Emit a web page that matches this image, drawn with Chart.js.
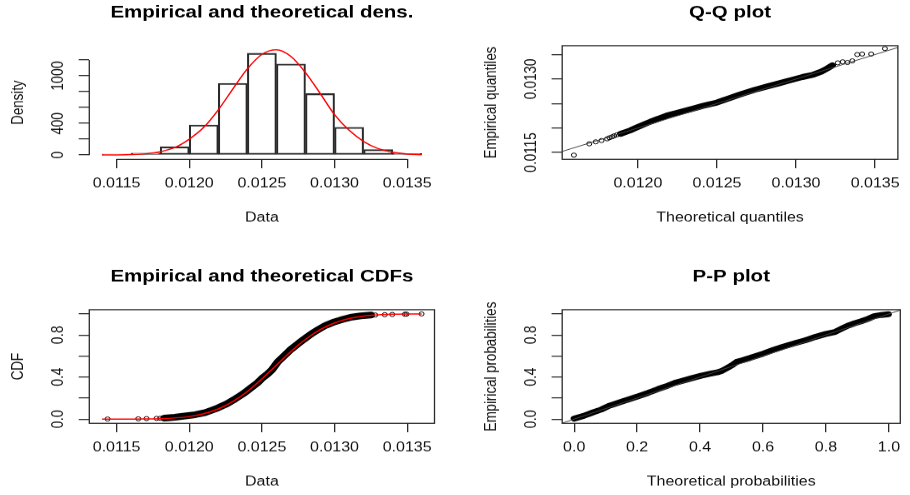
<!DOCTYPE html>
<html>
<head>
<meta charset="utf-8">
<script src="https://cdn.jsdelivr.net/npm/chart.js@4.4.1/dist/chart.umd.min.js"></script>
<style>
  html, body { margin: 0; padding: 0; background: #fff; width: 910px; height: 495px; overflow: hidden; }
  canvas { position: absolute; }
</style>
</head>
<body>
<!-- each canvas is drawn at 455x317 and shown at 455x264 (vertically condensed) -->
<canvas id="dens" width="455" height="317" style="left:0;top:0;width:455px;height:264px"></canvas>
<canvas id="qq"   width="455" height="317" style="left:455px;top:0;width:455px;height:264px"></canvas>
<canvas id="cdf"  width="455" height="317" style="left:0;top:264px;width:455px;height:264px"></canvas>
<canvas id="pp"   width="455" height="317" style="left:455px;top:264px;width:455px;height:264px"></canvas>
<script>
// ---------- data ----------
// histogram of the sample (bin edges and density of each bin)
const histBreaks  = [0.0114, 0.0116, 0.0118, 0.0120, 0.0122, 0.0124, 0.0126, 0.0128, 0.0130, 0.0132, 0.0134, 0.0136];
const histDensity = [10, 25, 105, 380, 905, 1285, 1150, 775, 350, 70, 20];

// fitted normal distribution, evaluated along the data range
const fitX       = [0.0114, 0.0115, 0.0116, 0.0117, 0.0118, 0.0119, 0.0120, 0.0121, 0.0122, 0.0123, 0.0124, 0.0125,
                    0.0126, 0.0127, 0.0128, 0.0129, 0.0130, 0.0131, 0.0132, 0.0133, 0.0134, 0.0135, 0.0136];
const fitDensity = [0.5, 1.8, 5.7, 16, 41, 94, 200, 350, 571, 834, 1088, 1271,
                    1329, 1244, 1041, 780, 510, 313, 172, 81, 35, 13, 5];
const fitCdf     = [0.00004, 0.00014, 0.0005, 0.0015, 0.0042, 0.0107, 0.0246, 0.0512, 0.0968, 0.1669, 0.2633, 0.3821,
                    0.5133, 0.6431, 0.758, 0.8493, 0.9141, 0.9554, 0.979, 0.991, 0.9965, 0.9988, 0.9996];

// empirical CDF: isolated tail observations and the dense bulk
const ecdfTailX = [0.011438, 0.011649, 0.011706, 0.011775, 0.011800, 0.011821,
                   0.013230, 0.013280, 0.013346, 0.013397, 0.013484, 0.013495, 0.013599];
const ecdfTailY = [0.001, 0.003, 0.005, 0.007, 0.008, 0.009,
                   0.988, 0.990, 0.993, 0.995, 0.997, 0.998, 1.0];
const ecdfBulkX = [0.01183, 0.01190, 0.01197, 0.01204, 0.01211, 0.01215, 0.01220, 0.01226, 0.01231, 0.01237,
                   0.01243, 0.01247, 0.01250, 0.01254, 0.01257, 0.01259, 0.01261, 0.01266, 0.01270, 0.01275,
                   0.01280, 0.01284, 0.01289, 0.01294, 0.01300, 0.01306, 0.01312, 0.01318, 0.01325];
const ecdfBulkY = [0.010, 0.018, 0.030, 0.042, 0.062, 0.082, 0.108, 0.147, 0.187, 0.240,
                   0.302, 0.345, 0.386, 0.430, 0.470, 0.508, 0.545, 0.610, 0.663, 0.718,
                   0.770, 0.810, 0.853, 0.892, 0.925, 0.950, 0.970, 0.981, 0.990];

// Q-Q plot: theoretical vs empirical quantiles
const qqTailX = [0.011595, 0.011692, 0.011733, 0.011770, 0.011805, 0.011820, 0.011836, 0.011850, 0.011866,
                 0.013264, 0.013295, 0.013325, 0.013356, 0.013387, 0.013418, 0.013475, 0.013562];
const qqTailY = [0.011446, 0.011676, 0.011717, 0.011744, 0.011778, 0.011800, 0.011819, 0.011840, 0.011859,
                 0.013330, 0.013351, 0.013337, 0.013371, 0.013500, 0.013510, 0.013510, 0.013622];
const qqBulkX = [0.01189, 0.01195, 0.01200, 0.01208, 0.01218, 0.01226, 0.01233, 0.01241, 0.01250, 0.01258,
                 0.01266, 0.01274, 0.01282, 0.01290, 0.01297, 0.01304, 0.01311, 0.01316, 0.01320, 0.01323];
const qqBulkY = [0.01188, 0.01195, 0.01202, 0.01213, 0.01225, 0.01232, 0.01238, 0.01245, 0.01252, 0.01261,
                 0.01270, 0.01278, 0.01285, 0.01292, 0.01298, 0.01304, 0.01309, 0.01315, 0.01322, 0.01328];

// P-P plot: theoretical vs empirical probabilities
const ppBulkX = [0.000, 0.030, 0.059, 0.085, 0.111, 0.155, 0.202, 0.235, 0.267, 0.295, 0.319, 0.345, 0.371,
                 0.403, 0.430, 0.454, 0.470, 0.486, 0.503, 0.517, 0.535, 0.558, 0.600, 0.630, 0.662, 0.704,
                 0.735, 0.766, 0.800, 0.829, 0.850, 0.870, 0.890, 0.912, 0.935, 0.953, 0.975, 0.998];
const ppBulkY = [0.005, 0.030, 0.063, 0.090, 0.127, 0.170, 0.216, 0.250, 0.286, 0.315, 0.343, 0.365, 0.387,
                 0.413, 0.430, 0.444, 0.460, 0.486, 0.515, 0.546, 0.560, 0.581, 0.622, 0.655, 0.686, 0.724,
                 0.750, 0.781, 0.810, 0.829, 0.860, 0.889, 0.910, 0.930, 0.955, 0.978, 0.990, 0.998];

// axis ranges
const dataRange  = [0.011312, 0.013688];
const densRange  = [-54, 1380];
const qqXRange   = [0.011521, 0.013644];
const qqYRange   = [0.01136, 0.01368];
const probXRange = [-0.038, 1.036];
const probYRange = [-0.04, 1.04];

// tick positions and their printed labels ('' = tick without label)
const dataTicks       = [0.0115, 0.0120, 0.0125, 0.0130, 0.0135];
const dataTickLabels  = ['0.0115', '0.0120', '0.0125', '0.0130', '0.0135'];
const densTicks       = [0, 200, 400, 600, 800, 1000, 1200];
const densTickLabels  = ['0', '', '400', '', '', '1000', ''];
const qqXTicks        = [0.0120, 0.0125, 0.0130, 0.0135];
const qqXTickLabels   = ['0.0120', '0.0125', '0.0130', '0.0135'];
const qqYTicks        = [0.0115, 0.0120, 0.0125, 0.0130, 0.0135];
const qqYTickLabels   = ['0.0115', '', '', '0.0130', ''];
const probTicks       = [0, 0.2, 0.4, 0.6, 0.8, 1.0];
const probXTickLabels = ['0.0', '0.2', '0.4', '0.6', '0.8', '1.0'];
const probYTickLabels = ['0.0', '', '0.4', '', '0.8', ''];

// ---------- layout constants (canvas units) ----------
const CANVAS_H = 317;
const AREA_TOP = 54.87;
const AREA_BOTTOM = 191.28;
const TICK_LEN = 10.6;
const INK = '#111111';
const LINE = '#2a2a2a';

Chart.defaults.font.family = "'Liberation Sans', Arial, Helvetica, sans-serif";
Chart.defaults.color = INK;

const zip = (xs, ys) => xs.map((x, i) => ({x, y: ys[i]}));

// R-style frame: a full box, or axis lines that run from the first to the last tick
const rFrame = {
  id: 'rFrame',
  afterDatasetsDraw(chart, args, opts) {
    const {ctx, chartArea: a} = chart;
    ctx.save();
    ctx.strokeStyle = LINE;
    ctx.lineWidth = 1.3;
    if (opts.box) {
      ctx.strokeRect(a.left, a.top, a.right - a.left, a.bottom - a.top);
    } else {
      const xs = chart.scales.x, ys = chart.scales.y;
      const xt = xs.ticks, yt = ys.ticks;
      ctx.beginPath();
      ctx.moveTo(xs.getPixelForValue(xt[0].value), a.bottom);
      ctx.lineTo(xs.getPixelForValue(xt[xt.length - 1].value), a.bottom);
      ctx.moveTo(a.left, ys.getPixelForValue(yt[0].value));
      ctx.lineTo(a.left, ys.getPixelForValue(yt[yt.length - 1].value));
      ctx.stroke();
    }
    ctx.restore();
  }
};

function xAxis(range, ticks, labels, title) {
  return {
    type: 'linear', min: range[0], max: range[1], offset: false,
    afterBuildTicks: s => { s.ticks = ticks.map(v => ({value: v})); },
    afterFit: s => { s.height = CANVAS_H - AREA_BOTTOM; },
    grid: {offset: false, drawOnChartArea: false, drawTicks: true, tickLength: TICK_LEN, color: LINE, lineWidth: 1.3},
    border: {display: false},
    ticks: {autoSkip: false, minRotation: 0, maxRotation: 0, padding: 9.6, color: INK,
            font: {size: 16}, callback: (v, i) => labels[i]},
    title: {display: true, text: title, color: INK, font: {size: 16}, padding: {top: 0, bottom: 46.2}}
  };
}

function yAxis(range, ticks, labels, title, width, labelGap, titleGap) {
  // label centre sits labelGap px left of the plot; crossAlign 'center' offsets by half the widest label
  const probe = document.createElement('canvas').getContext('2d');
  probe.font = "16px 'Liberation Sans', Arial, Helvetica, sans-serif";
  const widest = Math.max(...labels.map(l => probe.measureText(l).width));
  return {
    type: 'linear', min: range[0], max: range[1],
    afterBuildTicks: s => { s.ticks = ticks.map(v => ({value: v})); },
    afterFit: s => { s.width = width; },
    grid: {drawOnChartArea: false, drawTicks: true, tickLength: TICK_LEN, color: LINE, lineWidth: 1.3},
    border: {display: false},
    ticks: {autoSkip: false, minRotation: 90, maxRotation: 90, crossAlign: 'center',
            padding: labelGap - TICK_LEN - widest / 2, color: INK,
            font: {size: 16}, callback: (v, i) => labels[i]},
    title: {display: true, text: title, color: INK, font: {size: 16}, padding: {top: titleGap - 9.6, bottom: 0}}
  };
}

function options(title, scales, rightPad, box) {
  return {
    responsive: false, animation: false, devicePixelRatio: 1, events: [],
    layout: {padding: {left: 0, top: 0, bottom: 0, right: rightPad}},
    plugins: {
      legend: {display: false},
      tooltip: {enabled: false},
      title: {display: true, text: title, fullSize: false, color: '#000',
              font: {size: 20.5, weight: 'bold', lineHeight: 1.2},
              padding: {top: 3.4, bottom: AREA_TOP - 3.4 - 24.6}},
      rFrame: {box}
    },
    scales
  };
}

const hollow = {pointStyle: 'circle', pointRadius: 2.5, pointBorderWidth: 1,
                pointBorderColor: '#000', pointBackgroundColor: 'rgba(0,0,0,0)'};
const bulk = w => Object.assign({showLine: true, borderColor: '#000', borderWidth: w,
                                 borderJoinStyle: 'round', borderCapStyle: 'round'}, hollow);

// ---------- Empirical and theoretical densities ----------
const binCentres = histDensity.map((d, i) => (histBreaks[i] + histBreaks[i + 1]) / 2);
new Chart(document.getElementById('dens'), {
  type: 'bar',
  data: {
    datasets: [
      {type: 'line', order: 0, data: zip(fitX, fitDensity), borderColor: '#ff0000', borderWidth: 1.5,
       pointRadius: 0, cubicInterpolationMode: 'monotone'},
      {type: 'bar', order: 1, data: zip(binCentres, histDensity), backgroundColor: 'rgba(0,0,0,0)',
       borderColor: '#2a2a2a', borderWidth: 1.4, borderSkipped: false,
       barPercentage: 1, categoryPercentage: 1, grouped: false}
    ]
  },
  options: options('Empirical and theoretical dens.', {
    x: xAxis(dataRange, dataTicks, dataTickLabels, 'Data'),
    y: yAxis(densRange, densTicks, densTickLabels, 'Density', 89.3, 31, 18.3)
  }, 20.5, false),
  plugins: [rFrame]
});

// ---------- Q-Q plot ----------
const qqLo = Math.min(qqXRange[0], qqYRange[0]), qqHi = Math.max(qqXRange[1], qqYRange[1]);
new Chart(document.getElementById('qq'), {
  type: 'scatter',
  data: {
    datasets: [
      {order: 0, showLine: true, data: [{x: qqLo, y: qqLo}, {x: qqHi, y: qqHi}], borderColor: '#444',
       borderWidth: 1, pointRadius: 0, clip: 0},
      Object.assign({order: 1, data: zip(qqTailX, qqTailY)}, hollow),
      Object.assign({order: 2, data: zip(qqBulkX, qqBulkY)}, bulk(7))
    ]
  },
  options: options('Q-Q plot', {
    x: xAxis(qqXRange, qqXTicks, qqXTickLabels, 'Theoretical quantiles'),
    y: yAxis(qqYRange, qqYTicks, qqYTickLabels, 'Empirical quantiles', 107.2, 30.2, 36.7)
  }, 3.3, true),
  plugins: [rFrame]
});

// ---------- Empirical and theoretical CDFs ----------
new Chart(document.getElementById('cdf'), {
  type: 'scatter',
  data: {
    datasets: [
      {order: 0, showLine: true, data: zip(fitX, fitCdf), borderColor: '#ff0000', borderWidth: 1.5,
       pointRadius: 0, cubicInterpolationMode: 'monotone'},
      Object.assign({order: 1, data: zip(ecdfTailX, ecdfTailY)}, hollow),
      Object.assign({order: 2, data: zip(ecdfBulkX, ecdfBulkY)}, bulk(8))
    ]
  },
  options: options('Empirical and theoretical CDFs', {
    x: xAxis(dataRange, dataTicks, dataTickLabels, 'Data'),
    y: yAxis(probYRange, probTicks, probYTickLabels, 'CDF', 89.3, 31, 18.3)
  }, 20.5, true),
  plugins: [rFrame]
});

// ---------- P-P plot ----------
const ppLo = Math.min(probXRange[0], probYRange[0]), ppHi = Math.max(probXRange[1], probYRange[1]);
new Chart(document.getElementById('pp'), {
  type: 'scatter',
  data: {
    datasets: [
      {order: 0, showLine: true, data: [{x: ppLo, y: ppLo}, {x: ppHi, y: ppHi}], borderColor: '#444',
       borderWidth: 1, pointRadius: 0, clip: 0},
      Object.assign({order: 1, data: zip(ppBulkX, ppBulkY)}, bulk(7))
    ]
  },
  options: options('P-P plot', {
    x: xAxis(probXRange, probTicks, probXTickLabels, 'Theoretical probabilities'),
    y: yAxis(probYRange, probTicks, probYTickLabels, 'Empirical probabilities', 107.2, 30.2, 36.7)
  }, 3.3, true),
  plugins: [rFrame]
});
</script>
</body>
</html>
